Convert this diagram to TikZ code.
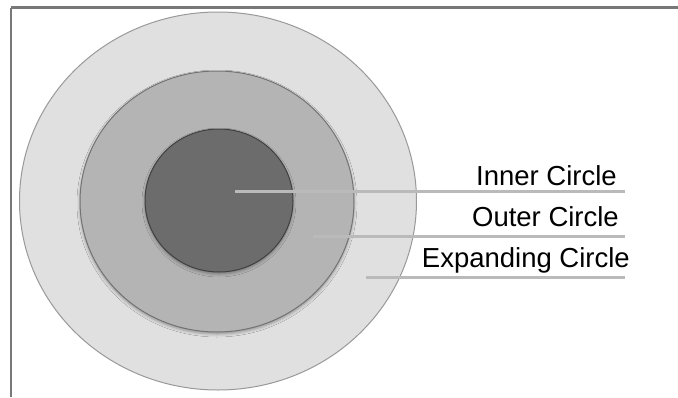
\documentclass[tikz,border=0pt]{standalone}
\usepackage{fontspec}
\setmainfont{Liberation Sans}
\usetikzlibrary{shapes.geometric,shadows.blur}
\definecolor{ringlight}{RGB}{224,224,224}
\definecolor{ringmid}{RGB}{180,180,180}
\definecolor{ringdark}{RGB}{108,108,108}
\definecolor{framegray}{RGB}{120,120,120}
\definecolor{leadergray}{RGB}{186,186,186}
\begin{document}
\begin{tikzpicture}[x=1pt,y=-1pt,
  ring/.style={ellipse, inner sep=0pt, line width=1pt},
  soft/.style={blur shadow={shadow xshift=0pt, shadow yshift=-2pt,
      shadow blur radius=3pt, shadow opacity=35}},
  leader/.style={draw=leadergray, line width=3pt},
  label/.style={anchor=base east, inner sep=0pt, font=\fontsize{27.5}{30}\selectfont}]
\useasboundingbox (0,0) rectangle (678,397);
\fill[white] (0,0) rectangle (678,397);
% frame: top and left rules
\draw[framegray, line width=2.2pt] (10.7,7.5) -- (678,7.5);
\draw[framegray, line width=2.2pt] (10.7,7.5) -- (10.7,397);
% nested rings
\node[ring, fill=ringlight, draw=black!40, minimum width=397pt, minimum height=378pt] (expanding) at (218,201) {};
\node[ring, soft, fill=ringmid, draw=black!55, minimum width=274pt, minimum height=261pt] (outer) at (217,201.5) {};
\node[ring, soft, fill=ringdark, draw=black!75, minimum width=148pt, minimum height=143pt] (inner) at (219,200.5) {};
% leader ends
\coordinate (pInner) at (235,191.7);
\coordinate (eInner) at (625,191.7);
\coordinate (pOuter) at (313,236);
\coordinate (eOuter) at (625,236);
\coordinate (pExp) at (366,277);
\coordinate (eExp) at (625,277);
\draw[leader] (pInner) -- (eInner);
\draw[leader] (pOuter) -- (eOuter);
\draw[leader] (pExp) -- (eExp);
% labels
\node[label] (tInner) at (617,185) {Inner Circle};
\node[label] (tOuter) at (619,226) {Outer Circle};
\node[label] (tExp) at (630,267.7) {Expanding Circle};
\end{tikzpicture}
\end{document}
